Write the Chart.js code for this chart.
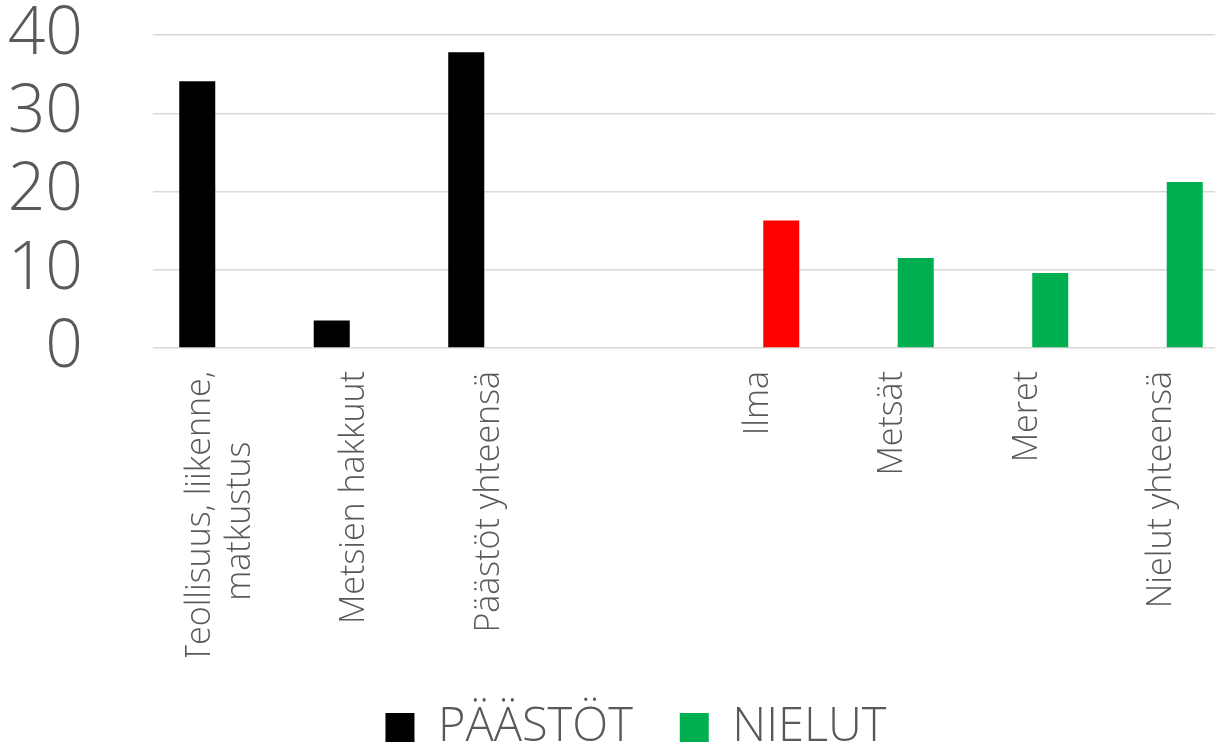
<!DOCTYPE html>
<html>
<head>
<meta charset="utf-8">
<script src="https://cdn.jsdelivr.net/npm/chart.js@4.4.0/dist/chart.umd.min.js"></script>
<style>
  html, body { margin: 0; padding: 0; background: #fff; overflow: hidden; }
  .wrap { position: absolute; left: 0; top: 0; width: 1272px; height: 780px; }
</style>
</head>
<body>
<div class="wrap"><canvas id="chart"></canvas></div>
<script>
var categories = [
    ['Teollisuus, liikenne,', 'matkustus\u00a0\u00a0\u00a0\u00a0\u00a0\u00a0\u00a0\u00a0'],
    'Metsien hakkuut',
    'Päästöt yhteensä',
    '',
    'Ilma',
    'Metsät',
    'Meret',
    'Nielut yhteensä'
];
var paastot = [34.1, 3.5, 37.8, null, null, null, null, null];
var nielut = [null, null, null, null, 16.3, 11.5, 9.6, 21.2];
var nielutColors = ['#00b050', '#00b050', '#00b050', '#00b050', '#ff0000', '#00b050', '#00b050', '#00b050'];
var yTicks = [0, 10, 20, 30, 40];

var grey = '#595959';
var font = 'Open Sans';

// center wrapped x labels on their tick (chart.js puts the first line on it)
var centerLines = {
    id: 'centerLines',
    beforeDraw: function (chart) {
        var s = chart.scales.x;
        s.getLabelItems(chart.chartArea).forEach(function (item) {
            if (Array.isArray(item.label) && !item._moved) {
                item.options.translation[0] -= (item.label.length - 1) * item.font.lineHeight / 2;
                item._moved = true;
            }
        });
    }
};

var ctx = document.getElementById('chart').getContext('2d');
var chart = new Chart(ctx, {
    type: 'bar',
    data: {
        labels: categories,
        datasets: [
            {
                label: 'PÄÄSTÖT',
                data: paastot,
                backgroundColor: '#000000'
            },
            {
                label: 'NIELUT',
                data: nielut,
                backgroundColor: function (c) {
                    if (c.type === 'data') return nielutColors[c.dataIndex];
                    return '#00b050';
                }
            }
        ]
    },
    plugins: [centerLines],
    options: {
        responsive: true,
        maintainAspectRatio: false,
        animation: false,
        categoryPercentage: 0.684,
        barPercentage: 0.783,
        layout: { padding: { left: 0, right: 0, top: 35, bottom: 19 } },
        plugins: {
            tooltip: { enabled: false },
            legend: {
                position: 'bottom',
                labels: {
                    color: grey,
                    boxWidth: 29,
                    boxHeight: 29,
                    padding: 47,
                    font: { family: font, size: 47, weight: 300 }
                }
            }
        },
        scales: {
            x: {
                grid: { display: false },
                border: { display: false },
                ticks: {
                    color: grey,
                    minRotation: 90,
                    maxRotation: 90,
                    autoSkip: false,
                    padding: 15,
                    font: { family: font, size: 34, weight: 300 }
                },
                afterFit: function (s) {
                    s.height = 309;
                    s.paddingLeft = 0;
                    s.paddingRight = 0;
                }
            },
            y: {
                min: 0,
                max: 40,
                border: { display: false },
                grid: { color: '#d9d9d9', lineWidth: 1.5, drawTicks: false },
                afterBuildTicks: function (s) {
                    s.ticks = yTicks.map(function (v) { return { value: v }; });
                },
                ticks: {
                    color: grey,
                    autoSkip: false,
                    padding: 70,
                    font: { family: font, size: 66, weight: 300 }
                },
                afterFit: function (s) {
                    s.width = 153;
                    s.paddingTop = 0;
                    s.paddingBottom = 0;
                }
            },
            // empty right margin so the legend sits where it does in the original
            side: {
                position: 'right',
                grid: { display: false },
                border: { display: false },
                ticks: { display: false },
                afterFit: function (s) {
                    s.width = 43;
                }
            }
        }
    }
});
</script>
</body>
</html>
